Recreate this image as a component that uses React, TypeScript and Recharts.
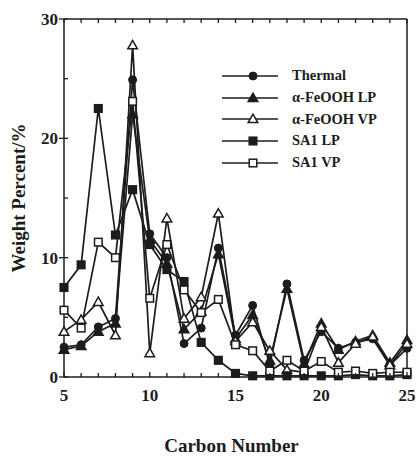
import { LineChart, Line, XAxis, YAxis, Legend } from 'recharts';

const carbon = [5, 6, 7, 8, 9, 10, 11, 12, 13, 14, 15, 16, 17, 18, 19, 20, 21, 22, 23, 24, 25];
const thermal = [2.5, 2.7, 4.2, 4.9, 24.9, 12.0, 10.0, 2.8, 4.1, 10.8, 3.5, 6.0, 1.0, 7.8, 1.4, 3.8, 2.4, 2.9, 3.2, 1.0, 2.4];
const feoohLP = [2.3, 2.6, 3.8, 4.5, 22.0, 11.5, 9.5, 4.0, 5.5, 10.3, 3.2, 5.2, 1.4, 7.4, 1.1, 4.5, 2.3, 3.0, 3.5, 1.2, 3.1];
const feoohVP = [3.8, 4.8, 6.3, 3.5, 27.8, 2.0, 13.3, 4.9, 6.7, 13.7, 3.0, 4.6, 2.2, 0.6, 0.4, 4.2, 1.2, 2.8, 3.4, 1.0, 2.8];
const sa1LP = [7.5, 9.4, 22.5, 11.9, 15.7, 11.1, 9.0, 8.0, 2.9, 1.4, 0.3, 0.1, 0.1, 0.1, 0.1, 0.1, 0.1, 0.2, 0.1, 0.1, 0.2];
const sa1VP = [5.6, 4.1, 11.3, 10.0, 23.1, 6.6, 11.1, 7.3, 5.4, 6.5, 2.7, 2.2, 0.5, 1.4, 0.5, 1.3, 0.4, 0.5, 0.3, 0.4, 0.4];

const xTicks = carbon;
const yTicks = [0, 5, 10, 15, 20, 25, 30];

const data = carbon.map((c, i) => ({
  c,
  thermal: thermal[i],
  feoohLP: feoohLP[i],
  feoohVP: feoohVP[i],
  sa1LP: sa1LP[i],
  sa1VP: sa1VP[i],
}));

const INK = '#1c1c1c';
const FONT = '"Liberation Serif", "DejaVu Serif", serif';

type Kind = 'circle' | 'triFilled' | 'triOpen' | 'sqFilled' | 'sqOpen';

function Marker({ kind, cx, cy }: { kind: Kind; cx: number; cy: number }) {
  if (kind === 'circle') return <circle cx={cx} cy={cy} r={4} fill={INK} stroke={INK} />;
  if (kind === 'triFilled' || kind === 'triOpen') {
    const s = 4.8;
    const pts = `${cx},${cy - s} ${cx - s},${cy + s * 0.75} ${cx + s},${cy + s * 0.75}`;
    return <polygon points={pts} fill={kind === 'triFilled' ? INK : '#fff'} stroke={INK} strokeWidth={1.5} />;
  }
  const s = 3.8;
  return (
    <rect x={cx - s} y={cy - s} width={s * 2} height={s * 2}
      fill={kind === 'sqFilled' ? INK : '#fff'} stroke={INK} strokeWidth={1.5} />
  );
}

const series: { key: string; name: string; kind: Kind }[] = [
  { key: 'thermal', name: 'Thermal', kind: 'circle' },
  { key: 'feoohLP', name: 'α-FeOOH LP', kind: 'triFilled' },
  { key: 'feoohVP', name: 'α-FeOOH VP', kind: 'triOpen' },
  { key: 'sa1LP', name: 'SA1 LP', kind: 'sqFilled' },
  { key: 'sa1VP', name: 'SA1 VP', kind: 'sqOpen' },
];

function BottomTick(props: any) {
  const { x, y, payload } = props;
  const major = payload.value % 5 === 0;
  return (
    <g>
      <line x1={x} x2={x} y1={y} y2={y - (major ? 5 : 4)} stroke={INK} strokeWidth={1.3} />
      {major && (
        <text x={x} y={y + 24} textAnchor="middle" fontFamily={FONT} fontWeight="bold" fontSize={17} fill={INK}>
          {payload.value}
        </text>
      )}
    </g>
  );
}

function TopTick(props: any) {
  const { x, y } = props;
  return <line x1={x} x2={x} y1={y} y2={y + 4} stroke={INK} strokeWidth={1.3} />;
}

function LeftTick(props: any) {
  const { x, y, payload } = props;
  const major = payload.value % 10 === 0;
  return (
    <g>
      <line x1={major ? x - 5 : x} x2={x + 4} y1={y} y2={y} stroke={INK} strokeWidth={1.3} />
      {major && (
        <text x={x - 6} y={y + 6} textAnchor="end" fontFamily={FONT} fontWeight="bold" fontSize={17} fill={INK}>
          {payload.value}
        </text>
      )}
    </g>
  );
}

function RightTick(props: any) {
  const { x, y } = props;
  return <line x1={x} x2={x - 4} y1={y} y2={y} stroke={INK} strokeWidth={1.3} />;
}

function YTitle(props: any) {
  const vb = props.viewBox;
  const cx = 18;
  const cy = vb.y + vb.height / 2;
  return (
    <text x={cx} y={cy} transform={`rotate(-90 ${cx} ${cy})`} textAnchor="middle" dominantBaseline="central"
      fontFamily={FONT} fontWeight="bold" fontSize={19} fill={INK}>
      Weight Percent/%
    </text>
  );
}

function XTitle(props: any) {
  const vb = props.viewBox;
  return (
    <text x={vb.x + vb.width / 2 - 4} y={452} textAnchor="middle"
      fontFamily={FONT} fontWeight="bold" fontSize={19} fill={INK}>
      Carbon Number
    </text>
  );
}

function LegendBox() {
  return (
    <div style={{ fontFamily: FONT, fontWeight: 'bold', fontSize: 14.5, color: INK }}>
      {series.map((s) => (
        <div key={s.key} style={{ display: 'flex', alignItems: 'center', height: 21.7 }}>
          <svg width={70} height={14} style={{ display: 'block' }}>
            <line x1={0} x2={56} y1={7} y2={7} stroke={INK} strokeWidth={1.4} />
            <Marker kind={s.kind} cx={31} cy={7} />
          </svg>
          <span style={{ whiteSpace: 'nowrap' }}>{s.name}</span>
        </div>
      ))}
    </div>
  );
}

export default function App() {
  return (
    <div style={{ position: 'absolute', left: 0, top: 0, width: 417, height: 457, background: '#fff' }}>
      <LineChart width={417} height={457} data={data} margin={{ top: 18, right: 9, bottom: 12, left: 0 }}>
        <XAxis xAxisId="b" dataKey="c" type="number" domain={[5, 25]} ticks={xTicks} interval={0}
          height={68} tickSize={0} tickMargin={0} tickLine={false} tick={<BottomTick />}
          axisLine={{ stroke: INK, strokeWidth: 1.5 }} label={{ content: XTitle }} />
        <XAxis xAxisId="t" orientation="top" dataKey="c" type="number" domain={[5, 25]} ticks={xTicks} interval={0}
          height={1} tickSize={0} tickMargin={0} tickLine={false} tick={<TopTick />}
          axisLine={{ stroke: INK, strokeWidth: 1.5 }} />
        <YAxis yAxisId="l" type="number" domain={[0, 30]} ticks={yTicks} interval={0} width={64}
          tickSize={0} tickMargin={0} tickLine={false} tick={<LeftTick />}
          axisLine={{ stroke: INK, strokeWidth: 1.5 }} label={{ content: YTitle }} />
        <YAxis yAxisId="r" orientation="right" type="number" domain={[0, 30]} ticks={yTicks} interval={0} width={1}
          tickSize={0} tickMargin={0} tickLine={false} tick={<RightTick />}
          axisLine={{ stroke: INK, strokeWidth: 1.5 }} />
        <Legend layout="vertical" align="center" verticalAlign="middle" content={<LegendBox />}
          wrapperStyle={{ left: 222, top: 65, width: 190, height: 'auto' }} />
        {series.map((s) => (
          <Line key={s.key} xAxisId="b" yAxisId="l" dataKey={s.key} name={s.name} type="linear"
            stroke={INK} strokeWidth={1.7} isAnimationActive={false}
            dot={(p: any) => <Marker key={`${s.key}-${p.index}`} kind={s.kind} cx={p.cx} cy={p.cy} />}
            activeDot={false} />
        ))}
      </LineChart>
    </div>
  );
}
